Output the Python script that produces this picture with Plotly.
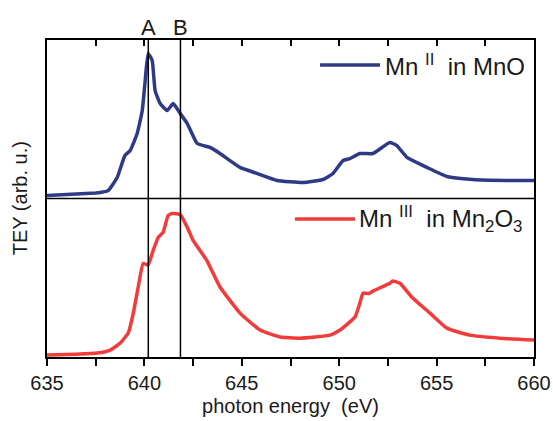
import plotly.graph_objects as go

# ---- data ----
energy_mno = [635.0, 636.5, 637.5, 637.73, 638.14, 638.6, 639.0, 639.27, 639.63, 639.89,
              640.04, 640.19, 640.4, 640.55, 640.81, 641.17, 641.48, 641.84, 642.2, 642.71,
              643.37, 643.88, 644.91, 645.78, 646.81, 648.14, 649.17, 649.68, 650.2, 650.55,
              651.06, 651.73, 652.6, 652.96, 653.48, 654.5, 655.53, 656.86, 658.6, 660.0]
tey_mno = [0.019, 0.028, 0.035, 0.038, 0.05, 0.132, 0.271, 0.303, 0.41, 0.555,
           0.744, 0.915, 0.871, 0.681, 0.599, 0.555, 0.599, 0.536, 0.473, 0.347,
           0.322, 0.284, 0.196, 0.158, 0.114, 0.101, 0.12, 0.158, 0.24, 0.252,
           0.284, 0.284, 0.353, 0.334, 0.259, 0.196, 0.139, 0.12, 0.114, 0.114]

energy_mn2o3 = [635.0, 636.5, 637.58, 638.25, 638.76, 639.17, 639.43, 639.68, 639.94, 640.19,
                640.45, 640.71, 640.96, 641.22, 641.43, 641.84, 642.2, 642.5, 643.2, 643.89,
                644.91, 645.94, 646.97, 647.99, 649.53, 650.04, 650.81, 651.06, 651.22, 651.5,
                651.8, 652.6, 652.75, 653.12, 653.73, 654.66, 655.53, 656.7, 658.25, 660.0]
tey_mn2o3 = [0.013, 0.018, 0.025, 0.044, 0.088, 0.151, 0.277, 0.44, 0.591, 0.579,
             0.673, 0.755, 0.786, 0.893, 0.906, 0.899, 0.818, 0.736, 0.61, 0.44,
             0.277, 0.17, 0.126, 0.119, 0.138, 0.17, 0.252, 0.34, 0.403, 0.40,
             0.42, 0.465, 0.48, 0.465, 0.377, 0.277, 0.182, 0.138, 0.119, 0.107]

marker_names = ["A", "B"]
marker_energies = [640.2, 641.85]

x_range = [635, 660]
x_tick_vals = [635, 640, 645, 650, 655, 660]
x_tick_text = ["635", "640", "645", "650", "655", "660"]

label_mno = "Mn <sup>II</sup>  in MnO"
label_mn2o3 = "Mn <sup>III</sup>  in Mn<sub>2</sub>O<sub>3</sub>"

FONT = "Arial, Liberation Sans, sans-serif"
TXT = "#1a1a1a"
BLUE = "#2e3a86"
RED = "#f23b3b"

fig = go.Figure()
fig.add_trace(go.Scatter(x=energy_mno, y=tey_mno, mode="lines", name=label_mno,
                         line=dict(color=BLUE, width=3.5, shape="spline", smoothing=0.4),
                         xaxis="x", yaxis="y", showlegend=False))
fig.add_trace(go.Scatter(x=energy_mn2o3, y=tey_mn2o3, mode="lines", name=label_mn2o3,
                         line=dict(color=RED, width=3.5, shape="spline", smoothing=0.4),
                         xaxis="x", yaxis="y2", showlegend=False))
# trace on xaxis2 so the top inside ticks render
fig.add_trace(go.Scatter(x=[x_range[0]], y=[None], xaxis="x2", yaxis="y", showlegend=False,
                         hoverinfo="skip"))

shapes = []
annotations = []
for name, e in zip(marker_names, marker_energies):
    shapes.append(dict(type="line", xref="x", yref="paper", x0=e, x1=e, y0=0, y1=1,
                       line=dict(color="black", width=1.5)))
    annotations.append(dict(text=name, xref="x", yref="paper", x=e, y=1, yanchor="bottom",
                            showarrow=False, yshift=-2, font=dict(size=22, color=TXT, family=FONT)))
# divider between the two panels
shapes.append(dict(type="line", xref="paper", yref="paper", x0=0, x1=1, y0=0.5, y1=0.5,
                   line=dict(color="black", width=1.5)))

# legend keys (line sample + label) for each panel
legend_items = [
    (label_mno, BLUE, 0.5606, 0.6838, 0.921, 0.690),
    (label_mn2o3, RED, 0.5092, 0.6324, 0.435, 0.636),
]
for text, color, lx0, lx1, ly, tx in legend_items:
    shapes.append(dict(type="line", xref="paper", yref="paper", x0=lx0, x1=lx1, y0=ly, y1=ly,
                       line=dict(color=color, width=3.5)))
    annotations.append(dict(text=text, xref="paper", yref="paper", x=tx, y=ly, xanchor="left",
                            yanchor="middle", showarrow=False,
                            font=dict(size=24, color=TXT, family=FONT)))

annotations.append(dict(text="TEY (arb. u.)", xref="paper", yref="paper", x=-0.056, y=0.5,
                        textangle=-90, showarrow=False, xanchor="center", yanchor="middle",
                        font=dict(size=20, color=TXT, family=FONT)))

fig.update_layout(
    width=553, height=421,
    margin=dict(l=47, r=19, t=40, b=64),
    paper_bgcolor="white", plot_bgcolor="white",
    font=dict(family=FONT, size=20, color=TXT),
    showlegend=False,
    xaxis=dict(range=x_range, anchor="y2", side="bottom", showline=True, linecolor="black",
               linewidth=1.5, ticks="outside", ticklen=7, tickwidth=1.5, tickcolor="black",
               tickvals=x_tick_vals, ticktext=x_tick_text, showgrid=False, zeroline=False,
               minor=dict(dtick=2.5, tick0=635, ticks="outside", ticklen=7, tickwidth=1.5,
                          tickcolor="black", showgrid=False),
               title=dict(text="photon energy\u00a0 (eV)", standoff=6,
                          font=dict(size=20, color=TXT, family=FONT)),
               tickfont=dict(size=20, color=TXT, family=FONT), automargin=False),
    xaxis2=dict(range=x_range, overlaying="x", side="top", anchor="y", showline=True,
                linecolor="black", linewidth=1.5, ticks="inside", ticklen=6, tickwidth=1.5,
                tickcolor="black", dtick=2.5, tick0=635, showticklabels=False, showgrid=False,
                zeroline=False),
    yaxis=dict(domain=[0.5, 1], range=[0, 1], showline=True, mirror=True, linecolor="black",
               linewidth=1.5, ticks="", showticklabels=False, showgrid=False, zeroline=False),
    yaxis2=dict(domain=[0, 0.5], range=[0, 1], showline=True, mirror=True, linecolor="black",
                linewidth=1.5, ticks="", showticklabels=False, showgrid=False, zeroline=False),
    shapes=shapes, annotations=annotations,
)

fig.write_html("out.html", config={"displayModeBar": False},
               post_script="document.body.style.margin='0';document.body.style.padding='0';")
